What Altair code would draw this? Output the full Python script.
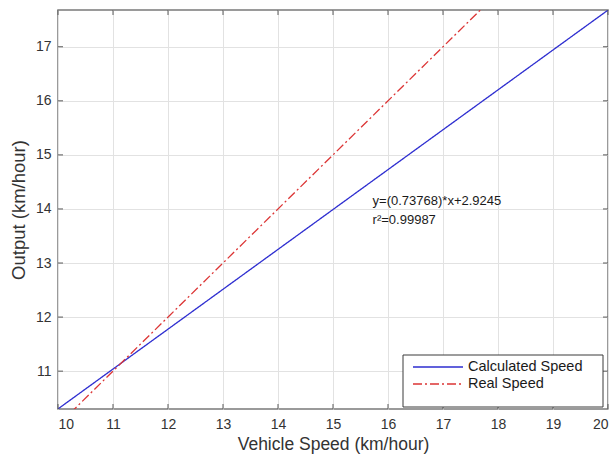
import altair as alt
import pandas as pd

# ---- data ----
speed = [10, 20]
calculated = [10.3013, 17.6781]
real = [10, 20]
series = ["Calculated Speed", "Real Speed"]
series_colors = ["#2e2ed0", "#dc3535"]
series_dash = [[1, 0], [9, 3, 2, 3]]
x_ticks = [10, 11, 12, 13, 14, 15, 16, 17, 18, 19, 20]
y_ticks = [11, 12, 13, 14, 15, 16, 17]
annot_text = ["y=(0.73768)*x+2.9245", "r²=0.99987"]
annot_x = [15.72, 15.72]
annot_y = [14.14, 13.79]

W, H = 550, 399
FONT = "Liberation Sans"
x_dom = [10, 20]
y_dom = [10.3, 17.68]

lines_df = pd.DataFrame({
    "speed": speed + speed,
    "out": calculated + real,
    "series": [series[0]] * len(speed) + [series[1]] * len(speed),
})

xs = alt.Scale(domain=x_dom, nice=False, zero=False)
ys = alt.Scale(domain=y_dom, nice=False, zero=False)

base_axes = alt.Chart(lines_df).mark_line(clip=True, strokeWidth=1.3).encode(
    x=alt.X("speed:Q", scale=xs,
            axis=alt.Axis(title="Vehicle Speed (km/hour)", values=x_ticks, format="d",
                          tickSize=0, labelPadding=8, titlePadding=4, titleFontSize=17.5)),
    y=alt.Y("out:Q", scale=ys,
            axis=alt.Axis(title="Output (km/hour)", values=y_ticks, format="d",
                          tickSize=0, labelPadding=7, titlePadding=7, titleFontSize=18.5)),
    color=alt.Color("series:N", scale=alt.Scale(domain=series, range=series_colors), legend=None),
    strokeDash=alt.StrokeDash("series:N", scale=alt.Scale(domain=series, range=series_dash), legend=None),
)

xt = pd.DataFrame({"v": x_ticks})
yt = pd.DataFrame({"v": y_ticks})
tick_col = "#5a5a5a"
xtick_b = alt.Chart(xt).mark_rule(color=tick_col).encode(
    x=alt.X("v:Q", scale=xs), y=alt.value(H), y2=alt.value(H - 5))
xtick_t = alt.Chart(xt).mark_rule(color=tick_col).encode(
    x=alt.X("v:Q", scale=xs), y=alt.value(0), y2=alt.value(5))
ytick_l = alt.Chart(yt).mark_rule(color=tick_col).encode(
    y=alt.Y("v:Q", scale=ys), x=alt.value(0), x2=alt.value(5))
ytick_r = alt.Chart(yt).mark_rule(color=tick_col).encode(
    y=alt.Y("v:Q", scale=ys), x=alt.value(W), x2=alt.value(W - 5))

annot_df = pd.DataFrame({"t": annot_text, "x": annot_x, "y": annot_y})
annot = alt.Chart(annot_df).mark_text(
    align="left", baseline="middle", font=FONT, fontSize=13, color="#1a1a1a"
).encode(x=alt.X("x:Q", scale=xs), y=alt.Y("y:Q", scale=ys), text="t:N")

# legend box (manual, MATLAB style)
leg_df = pd.DataFrame({"s": ["box"]})
leg_box = alt.Chart(leg_df).mark_rect(fill="white", stroke="#3a3a3a", strokeWidth=1).encode(
    x=alt.value(345), x2=alt.value(545), y=alt.value(345), y2=alt.value(397))

leg_layers = []
for i, name in enumerate(series):
    d = pd.DataFrame({"s": [name]})
    yy = 357 + 17 * i
    leg_layers.append(
        alt.Chart(d).mark_rule(strokeWidth=1.3, strokeDash=series_dash[i], color=series_colors[i]).encode(
            x=alt.value(355), x2=alt.value(405), y=alt.value(yy)))
    leg_layers.append(
        alt.Chart(d).mark_text(align="left", baseline="middle", font=FONT, fontSize=14.5,
                               color="#1a1a1a").encode(
            x=alt.value(410), y=alt.value(yy), text="s:N"))

chart = alt.layer(
    base_axes, xtick_b, xtick_t, ytick_l, ytick_r, annot, leg_box, *leg_layers
).properties(
    width=W, height=H,
    autosize=alt.AutoSizeParams(type="none"),
    padding={"left": 58, "top": 10, "right": 8, "bottom": 48},
).configure_view(
    stroke="#7a7a7a", strokeWidth=1.5
).configure_axis(
    domain=False, grid=True, gridColor="#e2e2e2", gridWidth=1,
    labelFont=FONT, labelFontSize=14, labelColor="#333333",
    titleFont=FONT, titleFontWeight="normal", titleColor="#333333",
)

chart.save("out.html", embed_options={"renderer": "svg", "actions": False})
